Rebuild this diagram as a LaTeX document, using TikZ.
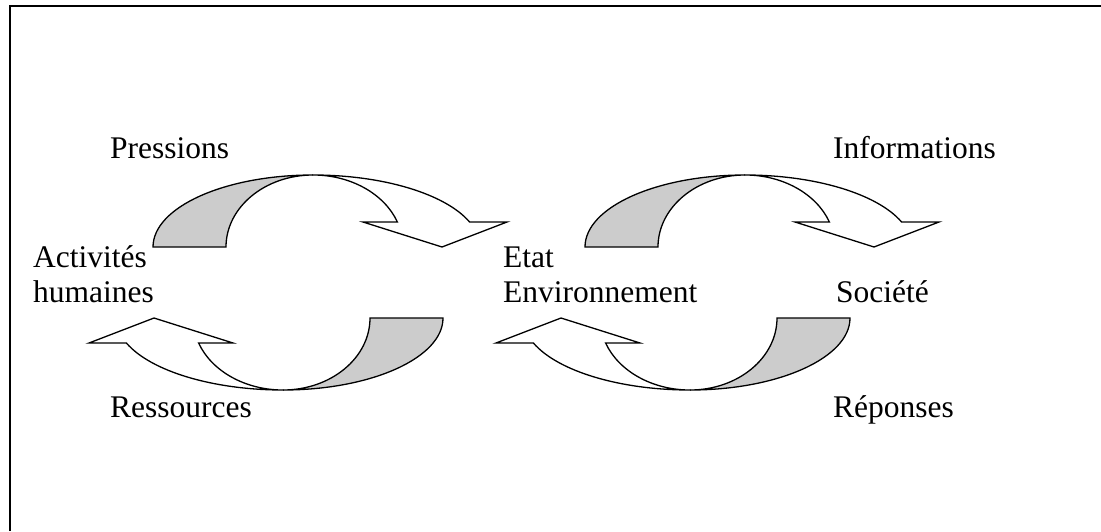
\documentclass[tikz,border=0pt]{standalone}
\usepackage{fontspec}
\setmainfont{Liberation Serif}
\definecolor{bandgray}{RGB}{204,204,204}
\tikzset{
  arrowline/.style={draw=black, line width=1.3pt, line join=miter},
  label/.style={inner sep=0pt, anchor=base west, align=left,
    font=\fontsize{31.5}{35}\selectfont},
  frame/.style={draw=black, line width=2pt},
  % curved block arrow: shaded back band on the left, open band ending in a head on the right
  curvarrow/.pic={
    \path[arrowline, fill=bandgray]
      (-160,0) arc[start angle=180, end angle=90, x radius=160, y radius=72]
      arc[start angle=90, end angle=180, x radius=87, y radius=72] -- cycle;
    \path[arrowline, fill=white]
      (0,72) arc[start angle=90, end angle=20.3, x radius=167, y radius=72]
      -- (194,25) -- (129,0) -- (50,25) -- (84.4,25)
      arc[start angle=20.3, end angle=90, x radius=90, y radius=72] -- cycle;
  }
}
\begin{document}
\begin{tikzpicture}[x=1pt, y=1pt]
  \useasboundingbox (0,0) rectangle (1101,-531);
  \draw[frame] (10,-531) -- (10,-6) -- (1101,-6);

  \pic at (313,-247) {curvarrow};
  \pic at (745,-247) {curvarrow};
  \pic[rotate=180] at (283,-318) {curvarrow};
  \pic[rotate=180] at (690,-318) {curvarrow};

  % two-line labels are placed by the baseline of their last line
  \node[label] (pressions) at (110,-158) {Pressions};
  \node[label] (informations) at (833,-158) {Informations};
  \node[label] (activites) at (33,-302) {Activités\\humaines};
  \node[label] (etat) at (503,-302) {Etat\\Environnement};
  \node[label] (societe) at (836,-302) {Société};
  \node[label] (ressources) at (110,-417) {Ressources};
  \node[label] (reponses) at (833,-417) {Réponses};
\end{tikzpicture}
\end{document}
